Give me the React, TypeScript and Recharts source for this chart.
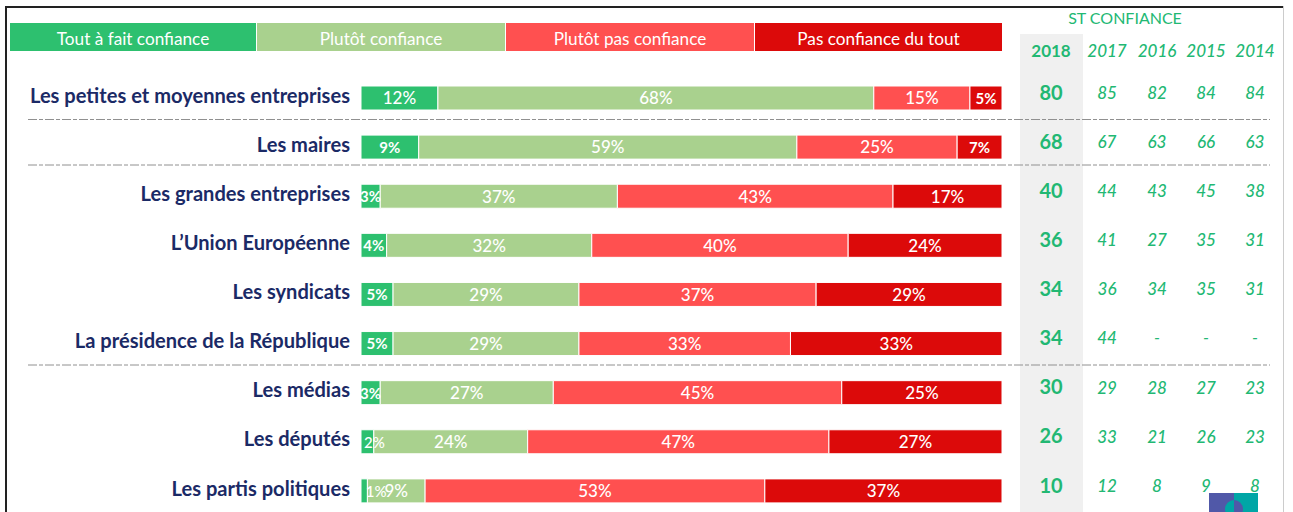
import React from 'react';
import { BarChart, Bar, XAxis, YAxis, LabelList } from 'recharts';

const categories = [
  'Les petites et moyennes entreprises',
  'Les maires',
  'Les grandes entreprises',
  'L’Union Européenne',
  'Les syndicats',
  'La présidence de la République',
  'Les médias',
  'Les députés',
  'Les partis politiques',
];

const toutAFait = [12, 9, 3, 4, 5, 5, 3, 2, 1];
const plutot = [68, 59, 37, 32, 29, 29, 27, 24, 9];
const plutotPas = [15, 25, 43, 40, 37, 33, 45, 47, 53];
const pasDuTout = [5, 7, 17, 24, 29, 33, 25, 27, 37];

const legendLabels = ['Tout à fait confiance', 'Plutôt confiance', 'Plutôt pas confiance', 'Pas confiance du tout'];
const colors = ['#2dc06f', '#a9d18e', '#ff5050', '#dc0a0a'];
const legendWidths = [247, 249, 249, 247];

const years = ['2018', '2017', '2016', '2015', '2014'];
const st2018 = ['80', '68', '40', '36', '34', '34', '30', '26', '10'];
const st2017 = ['85', '67', '44', '41', '36', '44', '29', '33', '12'];
const st2016 = ['82', '63', '43', '27', '34', '-', '28', '21', '8'];
const st2015 = ['84', '66', '45', '35', '35', '-', '27', '26', '9'];
const st2014 = ['84', '63', '38', '31', '31', '-', '23', '23', '8'];
const stColumns = [st2018, st2017, st2016, st2015, st2014];

const columnX = [1051, 1107, 1157, 1206, 1255];
const separatorY = [119.5, 165, 365];

const FONT = 'Lato, sans-serif';
const NAVY = '#1b2a66';
const GREEN = '#22b873';
const PLOT_LEFT = 361;
const PLOT_RIGHT = 1002;

const data = categories.map((name, i) => ({
  name,
  toutAFait: toutAFait[i],
  plutot: plutot[i],
  plutotPas: plutotPas[i],
  pasDuTout: pasDuTout[i],
}));

// the tiny labels were nudged by hand in the original
const labelShift: Record<number, number> = { 1: 12, 2: 7 };

const SegmentLabel = ({ x, y, width, height, value, smallOnes }: any) => {
  const small = smallOnes && value < 10;
  return (
    <text
      x={x + width / 2 + (smallOnes ? labelShift[value] || 0 : 0)}
      y={y + height / 2 + 2}
      textAnchor="middle"
      dominantBaseline="middle"
      fill="#fff"
      fontFamily={FONT}
      fontSize={small ? 15 : 17}
      fontWeight={small && value > 2 ? 700 : 500}
    >
      {value}%
    </text>
  );
};

const NameTick = ({ x, y, payload }: any) => (
  <text x={x} y={y} textAnchor="end" dominantBaseline="middle" fill={NAVY} fontFamily={FONT} fontSize={20.1} fontWeight={700}>
    {payload.value}
  </text>
);

const TableTick = ({ y, payload }: any) => {
  const row = categories.indexOf(payload.value);
  return (
    <g>
      {stColumns.map((col, c) => (
        <text
          key={years[c]}
          x={columnX[c]}
          y={y - 3}
          textAnchor="middle"
          dominantBaseline="middle"
          fill={GREEN}
          fontFamily={FONT}
          fontSize={c === 0 ? 20 : 17}
          fontWeight={c === 0 ? 700 : 500}
          fontStyle={c === 0 ? 'normal' : 'italic'}
        >
          {col[row]}
        </text>
      ))}
    </g>
  );
};

const Logo = () => (
  <svg width={49} height={19} style={{ position: 'absolute', left: 1209, top: 493 }}>
    <rect x={0} y={0} width={25} height={19} fill="#5058a8" />
    <rect x={25} y={0} width={24} height={19} fill="#00a6a6" />
    <circle cx={25} cy={16} r={9} fill="#00a6a6" />
    <path d="M25 7 a9 9 0 0 1 0 18 z" fill="#5058a8" />
  </svg>
);

export default function App() {
  return (
    <div style={{ position: 'fixed', left: 0, top: 0, width: 1293, height: 512, overflow: 'hidden', background: '#fff', fontFamily: FONT }}>
      {/* frame of the screenshot */}
      <div style={{ position: 'absolute', left: 5, top: 6, width: 1278, height: 2, background: '#222' }} />
      <div style={{ position: 'absolute', left: 5, top: 6, width: 2, height: 506, background: '#222' }} />
      <div style={{ position: 'absolute', left: 1283, top: 6, width: 1, height: 506, background: '#ccc' }} />

      {/* 2018 column background */}
      <div style={{ position: 'absolute', left: 1020, top: 34, width: 63, height: 478, background: '#f0f0f0' }} />

      {/* legend */}
      <div style={{ position: 'absolute', left: 10, top: 23, display: 'flex', height: 28 }}>
        {legendLabels.map((label, i) => (
          <div
            key={label}
            style={{
              width: legendWidths[i],
              height: 28,
              boxSizing: 'border-box',
              borderRight: i < 3 ? '1px solid #fff' : 'none',
              background: colors[i],
              color: '#fff',
              fontSize: 17.2,
              lineHeight: '31px',
              textAlign: 'center',
            }}
          >
            {label}
          </div>
        ))}
      </div>

      <div style={{ position: 'absolute', left: 1025, width: 200, top: 8, textAlign: 'center', color: GREEN, fontSize: 16, lineHeight: '20px' }}>
        ST CONFIANCE
      </div>
      {years.map((year, c) => (
        <div
          key={year}
          style={{
            position: 'absolute',
            left: columnX[c] - 30,
            width: 60,
            top: 41,
            textAlign: 'center',
            color: GREEN,
            fontSize: 17,
            lineHeight: '20px',
            fontWeight: c === 0 ? 700 : 500,
            fontStyle: c === 0 ? 'normal' : 'italic',
          }}
        >
          {year}
        </div>
      ))}

      <div style={{ position: 'absolute', left: 0, top: 0 }}>
        <BarChart
          width={1293}
          height={530}
          data={data}
          layout="vertical"
          margin={{ top: 73, right: 0, bottom: 15, left: 0 }}
        >
          <XAxis type="number" hide domain={[0, 100]} />
          <YAxis
            yAxisId="left"
            type="category"
            dataKey="name"
            width={PLOT_LEFT}
            axisLine={false}
            tickLine={false}
            tickSize={0}
            tickMargin={11}
            interval={0}
            tick={<NameTick />}
          />
          <YAxis
            yAxisId="right"
            orientation="right"
            type="category"
            dataKey="name"
            width={1293 - PLOT_RIGHT}
            axisLine={false}
            tickLine={false}
            interval={0}
            tick={<TableTick />}
          />
          <Bar yAxisId="left" dataKey="toutAFait" stackId="a" fill={colors[0]} stroke="#fff" strokeWidth={1} barSize={24} isAnimationActive={false}>
            <LabelList dataKey="toutAFait" content={<SegmentLabel smallOnes />} />
          </Bar>
          <Bar yAxisId="left" dataKey="plutot" stackId="a" fill={colors[1]} stroke="#fff" strokeWidth={1} barSize={24} isAnimationActive={false}>
            <LabelList dataKey="plutot" content={<SegmentLabel />} />
          </Bar>
          <Bar yAxisId="left" dataKey="plutotPas" stackId="a" fill={colors[2]} stroke="#fff" strokeWidth={1} barSize={24} isAnimationActive={false}>
            <LabelList dataKey="plutotPas" content={<SegmentLabel />} />
          </Bar>
          <Bar yAxisId="left" dataKey="pasDuTout" stackId="a" fill={colors[3]} stroke="#fff" strokeWidth={1} barSize={24} isAnimationActive={false}>
            <LabelList dataKey="pasDuTout" content={<SegmentLabel smallOnes />} />
          </Bar>
        </BarChart>
      </div>

      {/* dashed separators between groups */}
      <svg width={1293} height={512} style={{ position: 'absolute', left: 0, top: 0, pointerEvents: 'none' }}>
        {separatorY.map(y => (
          <line key={y} x1={28} x2={1270} y1={y} y2={y} stroke="#909090" strokeWidth={1} strokeDasharray="9 2 4 2" />
        ))}
      </svg>

      <Logo />
    </div>
  );
}
